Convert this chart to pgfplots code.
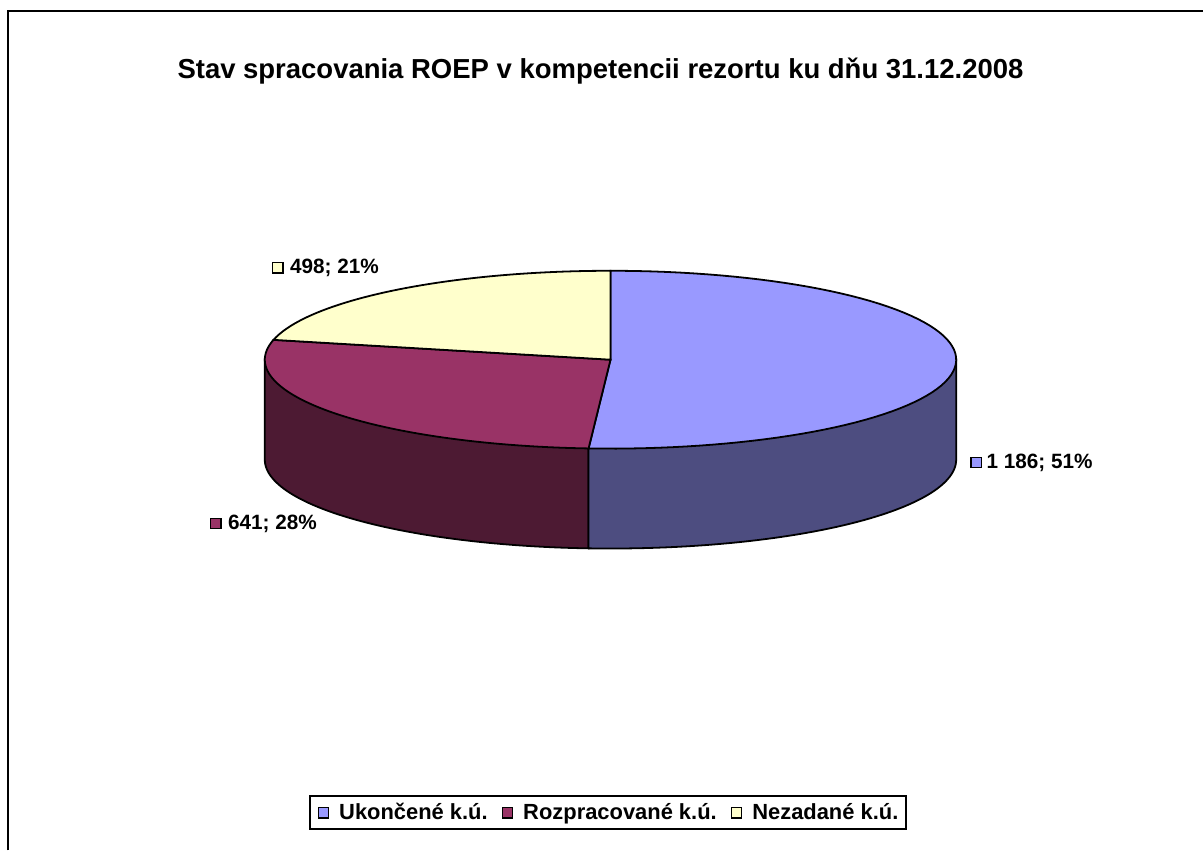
\documentclass[border=0pt]{standalone}
\usepackage{pgfplots}
\pgfplotsset{compat=1.18}
\usepackage{fontspec}
\setmainfont{Liberation Sans}
\definecolor{ublue}{RGB}{153,153,255}
\definecolor{ubside}{RGB}{77,77,128}
\definecolor{ured}{RGB}{153,51,102}
\definecolor{urside}{RGB}{77,26,51}
\definecolor{uyel}{RGB}{255,255,204}
\pgfplotsset{sqlegend/.style={legend image code/.code={\draw[##1] (0pt,-2.6bp) rectangle (5.2bp,2.6bp);}}}
% data
\def\vA{1186}\def\vB{641}\def\vC{498}
\pgfmathsetmacro\tot{\vA+\vB+\vC}
\pgfmathsetmacro\aS{90}
\pgfmathsetmacro\aAB{90-360*(\vA/\tot)}
\pgfmathsetmacro\aBC{\aAB-360*(\vB/\tot)}
\pgfmathsetmacro\aCend{\aBC+360}
% geometry (px units, y up)
\def\pcx{611}\def\pcy{491}\def\pra{346}\def\prb{89}\def\pdep{100}
\pgfmathsetmacro\xAB{\pcx+\pra*cos(\aAB)}
\pgfmathsetmacro\yAB{\pcy+\prb*sin(\aAB)}
\pgfmathsetmacro\xL{\pcx-\pra}
\pgfmathsetmacro\xR{\pcx+\pra}
\begin{document}
\begin{tikzpicture}
\begin{axis}[
  scale only axis, width=602bp, height=425.5bp,
  xmin=0, xmax=1204, ymin=0, ymax=851,
  hide axis, clip=false,
  legend columns=3,
  legend style={at={(axis cs:608.5,37.5)}, anchor=center, draw=black, line width=1bp,
    font=\bfseries\fontsize{11}{13}\selectfont, inner xsep=4bp, inner ysep=2bp,
    nodes={inner xsep=0pt, inner ysep=1.5bp},
    /tikz/every odd column/.append style={column sep=5bp},
    /tikz/every even column/.append style={column sep=7bp}},
  legend cell align=left,
]
\path (axis cs:0,0) rectangle (axis cs:1204,851);
% frame
\draw[line width=1bp, line cap=butt] (axis cs:8,0) -- (axis cs:8,840) -- (axis cs:1204,840);
% sides
\addplot[forget plot, fill=urside, draw=black, line width=0.9pt, domain=-180:\aAB, samples=60, variable=\tt]
  ({\pcx+\pra*cos(\tt)}, {\pcy-\pdep+\prb*sin(\tt)}) -- (axis cs:\xAB,\yAB) -- (axis cs:\xL,\pcy) -- cycle;
\addplot[forget plot, fill=ubside, draw=black, line width=0.9pt, domain=\aAB:0, samples=60, variable=\tt]
  ({\pcx+\pra*cos(\tt)}, {\pcy-\pdep+\prb*sin(\tt)}) -- (axis cs:\xR,\pcy) -- (axis cs:\xAB,\yAB) -- cycle;
% tops
\addplot[forget plot, fill=ublue, draw=black, line width=0.9pt, domain=\aAB:\aS, samples=80, variable=\tt]
  ({\pcx+\pra*cos(\tt)}, {\pcy+\prb*sin(\tt)}) -- (axis cs:\pcx,\pcy) -- cycle;
\addplot[forget plot, fill=ured, draw=black, line width=0.9pt, domain=\aBC:\aAB, samples=60, variable=\tt]
  ({\pcx+\pra*cos(\tt)}, {\pcy+\prb*sin(\tt)}) -- (axis cs:\pcx,\pcy) -- cycle;
\addplot[forget plot, fill=uyel, draw=black, line width=0.9pt, domain=\aS:\aCend, samples=50, variable=\tt]
  ({\pcx+\pra*cos(\tt)}, {\pcy+\prb*sin(\tt)}) -- (axis cs:\pcx,\pcy) -- cycle;
% data label keys
\addplot[forget plot, only marks, mark=square*, mark size=2.6bp, mark options={fill=ublue, draw=black, line width=0.6pt}] coordinates {(977,388)};
\addplot[forget plot, only marks, mark=square*, mark size=2.6bp, mark options={fill=ured, draw=black, line width=0.6pt}] coordinates {(216,327)};
\addplot[forget plot, only marks, mark=square*, mark size=2.6bp, mark options={fill=uyel, draw=black, line width=0.6pt}] coordinates {(278,583)};
\node[anchor=west, inner sep=0pt, font=\bfseries\fontsize{10.4}{12}\selectfont] at (axis cs:987,388) {1 186; 51\%};
\node[anchor=west, inner sep=0pt, font=\bfseries\fontsize{10.4}{12}\selectfont] at (axis cs:228,327) {641; 28\%};
\node[anchor=west, inner sep=0pt, font=\bfseries\fontsize{10.4}{12}\selectfont] at (axis cs:290,583) {498; 21\%};
% title
\node[anchor=base, inner sep=0pt, font=\bfseries\fontsize{13.8}{16}\selectfont] at (axis cs:601,772) {Stav spracovania ROEP v kompetencii rezortu ku dňu 31.12.2008};
% legend
\addlegendimage{sqlegend, fill=ublue, draw=black, line width=0.6pt}
\addlegendentry{Ukončené k.ú.}
\addlegendimage{sqlegend, fill=ured, draw=black, line width=0.6pt}
\addlegendentry{Rozpracované k.ú.}
\addlegendimage{sqlegend, fill=uyel, draw=black, line width=0.6pt}
\addlegendentry{Nezadané k.ú.}
\end{axis}
\end{tikzpicture}
\end{document}
